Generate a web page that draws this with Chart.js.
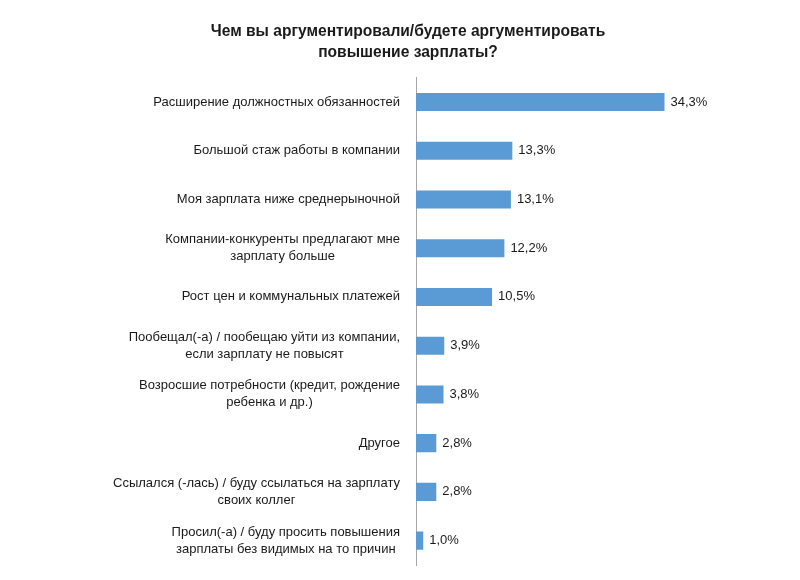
<!DOCTYPE html>
<html lang="ru">
<head>
    <meta charset="UTF-8">
    <title>Chart</title>
    <script src="https://cdn.jsdelivr.net/npm/chart.js"></script>
    <style>
        body { margin: 0; background: #fff; }
        #wrap { width: 800px; height: 580px; }
    </style>
</head>
<body>
<div id="wrap"><canvas id="mychart"></canvas></div>
<script>
    var categories = [
        ["Расширение должностных обязанностей"],
        ["Большой стаж работы в компании"],
        ["Моя зарплата ниже среднерыночной"],
        ["Компании-конкуренты предлагают мне", "зарплату больше"],
        ["Рост цен и коммунальных платежей"],
        ["Пообещал(-а) / пообещаю уйти из компании,", "если зарплату не повысят"],
        ["Возросшие потребности (кредит, рождение", "ребенка и др.)"],
        ["Другое"],
        ["Ссылался (-лась) / буду ссылаться на зарплату", "своих коллег"],
        ["Просил(-а) / буду просить повышения", "зарплаты без видимых на то причин"]
    ];
    var values = [34.3, 13.3, 13.1, 12.2, 10.5, 3.9, 3.8, 2.8, 2.8, 1.0];
    var titleLines = ["Чем вы аргументировали/будете аргументировать", "повышение зарплаты?"];

    var FONT = "'Liberation Sans', Arial, sans-serif";
    var TEXT = "#1a1a1a";

    // category labels: block right-aligned, lines centered inside block
    var labelPlugin = {
        id: 'labels',
        afterDraw(chart) {
            var ctx = chart.ctx;
            var y = chart.scales.y;
            var right = chart.chartArea.left - 16;
            var lh = 17;
            ctx.save();
            ctx.font = "13px " + FONT;
            ctx.fillStyle = TEXT;
            ctx.textAlign = 'center';
            ctx.textBaseline = 'middle';
            categories.forEach(function (lines, i) {
                var w = Math.max.apply(null, lines.map(function (l) { return ctx.measureText(l).width; }));
                var cx = right - w / 2;
                var cy = y.getPixelForValue(i) - (lines.length - 1) * lh / 2;
                lines.forEach(function (l, j) { ctx.fillText(l, cx, cy + j * lh); });
            });
            // value labels
            var meta = chart.getDatasetMeta(0);
            ctx.textAlign = 'left';
            meta.data.forEach(function (bar, i) {
                ctx.fillText(values[i].toFixed(1).replace('.', ',') + '%', bar.x + 6, bar.y);
            });
            ctx.restore();
        }
    };

    new Chart(document.getElementById("mychart").getContext('2d'), {
        type: 'bar',
        data: {
            labels: categories,
            datasets: [{
                data: values,
                backgroundColor: '#5b9bd5',
                borderWidth: 0,
                barPercentage: 0.37,
                categoryPercentage: 1
            }]
        },
        options: {
            indexAxis: 'y',
            responsive: true,
            maintainAspectRatio: false,
            animation: false,
            layout: { padding: { left: 16, right: 0, top: 22, bottom: 15 } },
            plugins: {
                legend: { display: false },
                tooltip: { enabled: false },
                title: {
                    display: true,
                    text: titleLines,
                    color: TEXT,
                    font: { family: FONT, size: 15.6, weight: 'bold', lineHeight: 1.3 },
                    padding: { top: 0, bottom: 15 }
                }
            },
            scales: {
                x: { display: false, min: 0, max: 53 },
                y: {
                    afterFit: function (s) { s.width = 400; },
                    ticks: { display: false },
                    grid: { display: false },
                    border: { display: true, color: '#a6a6a6', width: 1 }
                }
            }
        },
        plugins: [labelPlugin]
    });
</script>
</body>
</html>
